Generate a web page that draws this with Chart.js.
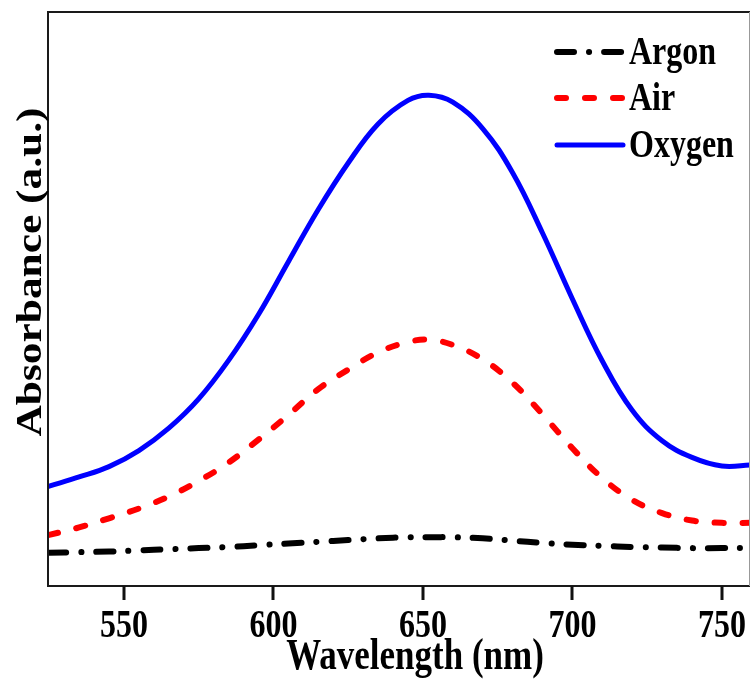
<!DOCTYPE html>
<html>
<head>
<meta charset="utf-8">
<title>Absorbance spectra</title>
<script src="https://cdn.jsdelivr.net/npm/chart.js@4.4.1/dist/chart.umd.min.js"></script>
<style>
  html, body { margin: 0; padding: 0; background: #fff; }
  #spectra { display: block; }
</style>
</head>
<body>
<canvas id="spectra" width="751" height="680"></canvas>
<script>
// wavelength grid (nm) shared by all three spectra
const WAVELENGTHS = [525, 535, 545, 555, 565, 575, 585, 595, 605, 615, 625, 635, 645, 652,
  660, 670, 680, 690, 700, 710, 720, 730, 740, 750, 760];

// absorbance, arbitrary units
const ARGON = [0.058, 0.059, 0.060, 0.062, 0.064, 0.066, 0.068, 0.071, 0.074, 0.077, 0.080, 0.083, 0.085, 0.085,
  0.085, 0.083, 0.079, 0.075, 0.072, 0.070, 0.068, 0.067, 0.066, 0.066, 0.066];
const AIR = [0.089, 0.102, 0.118, 0.135, 0.156, 0.183, 0.215, 0.255, 0.298, 0.343, 0.377, 0.407, 0.425, 0.429,
  0.420, 0.395, 0.354, 0.299, 0.240, 0.188, 0.150, 0.127, 0.114, 0.110, 0.110];
const OXYGEN = [0.174, 0.190, 0.208, 0.236, 0.275, 0.326, 0.393, 0.473, 0.565, 0.656, 0.737, 0.805, 0.846, 0.855,
  0.843, 0.797, 0.720, 0.615, 0.500, 0.392, 0.306, 0.253, 0.224, 0.209, 0.211];

const SERIES_NAMES = ['Argon', 'Air', 'Oxygen'];
const X_TICKS = [550, 600, 650, 700, 750];
const X_TITLE = 'Wavelength (nm)';
const Y_TITLE = 'Absorbance (a.u.)';

const FONT = '"Liberation Serif", "Times New Roman", serif';
const STRETCH = 1.24; // glyphs are drawn taller than wide
const TICK_LEN = 14;

const toPoints = vals => vals.map((v, i) => ({ x: WAVELENGTHS[i], y: v }));

const styles = [
  { color: '#000000', width: 6, dash: [17, 15, 0.1, 15] },
  { color: '#ff0000', width: 6, dash: [9, 19] },
  { color: '#0000ff', width: 5, dash: [] }
];

const datasets = [ARGON, AIR, OXYGEN].map((vals, i) => ({
  label: SERIES_NAMES[i],
  data: toPoints(vals),
  borderColor: styles[i].color,
  borderWidth: styles[i].width,
  borderDash: styles[i].dash,
  borderCapStyle: 'round',
  borderJoinStyle: 'round',
  pointRadius: 0,
  tension: 0.4,
  clip: 0
}));

// draws text taller than its natural shape
function stretchedText(ctx, text, x, y, size, align, rotate) {
  ctx.save();
  ctx.translate(x, y);
  if (rotate) {
    ctx.rotate(-Math.PI / 2);
    ctx.scale(STRETCH, 1);
  } else {
    ctx.scale(1, STRETCH);
  }
  ctx.font = 'bold ' + size + 'px ' + FONT;
  ctx.fillStyle = '#000';
  ctx.textAlign = align;
  ctx.textBaseline = 'alphabetic';
  ctx.fillText(text, 0, 0);
  ctx.restore();
}

const decorations = {
  id: 'decorations',
  afterDraw(chart) {
    const { ctx, chartArea: a, scales } = chart;

    // frame
    ctx.save();
    ctx.setLineDash([]);
    ctx.strokeStyle = '#1a1a1a';
    ctx.lineWidth = 2;
    ctx.beginPath();
    ctx.moveTo(a.right, a.top);
    ctx.lineTo(a.left, a.top);
    ctx.lineTo(a.left, a.bottom);
    ctx.lineTo(a.right, a.bottom);
    ctx.stroke();

    // outward tick marks on the wavelength axis
    ctx.fillStyle = '#111';
    X_TICKS.forEach(v => {
      const px = Math.round(scales.x.getPixelForValue(v));
      ctx.fillRect(px - 1.5, a.bottom, 3, TICK_LEN);
    });

    ctx.strokeStyle = '#999';
    ctx.lineWidth = 1;
    ctx.beginPath();
    ctx.moveTo(a.right - 0.5, a.top);
    ctx.lineTo(a.right - 0.5, a.bottom);
    ctx.stroke();
    ctx.restore();

    // tick labels and axis titles
    X_TICKS.forEach(v => {
      stretchedText(ctx, String(v), scales.x.getPixelForValue(v), 637, 32, 'center', false);
    });
    stretchedText(ctx, X_TITLE, 415, 669, 35, 'center', false);
    stretchedText(ctx, Y_TITLE, 41, 272, 35, 'center', true);

    // legend
    const rows = [52, 98, 145];
    chart.data.datasets.forEach((ds, i) => {
      const y = rows[i];
      ctx.save();
      ctx.strokeStyle = ds.borderColor;
      ctx.lineWidth = ds.borderWidth;
      ctx.lineCap = 'round';
      ctx.setLineDash(ds.borderDash);
      ctx.beginPath();
      ctx.moveTo(557, y);
      ctx.lineTo(623, y);
      ctx.stroke();
      ctx.restore();
      stretchedText(ctx, ds.label, 629, y + 12, 32, 'left', false);
    });
  }
};

new Chart(document.getElementById('spectra'), {
  type: 'line',
  data: { datasets },
  options: {
    responsive: false,
    animation: false,
    layout: { padding: { left: 48, right: 1, top: 12, bottom: 94 } },
    plugins: {
      legend: { display: false },
      tooltip: { enabled: false }
    },
    scales: {
      x: {
        type: 'linear',
        display: false,
        min: 524.6,
        max: 759.4
      },
      y: {
        display: false,
        min: 0,
        max: 1
      }
    }
  },
  plugins: [decorations]
});
</script>
</body>
</html>
